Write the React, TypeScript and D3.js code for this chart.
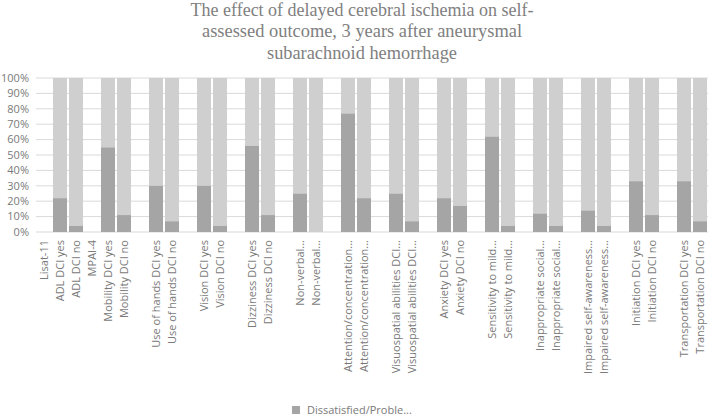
import React from "react";
import * as d3 from "d3";

const categories: string[] = [
  "Lisat-11", "ADL DCI yes", "ADL DCI no", "MPAI-4", "Mobility DCI yes", "Mobility DCI no", "",
  "Use of hands DCI yes", "Use of hands DCI no", "", "Vision DCI yes", "Vision DCI no", "",
  "Dizziness DCI yes", "Dizziness DCI no", "", "Non-verbal...", "Non-verbal...", "",
  "Attention/concentration...", "Attention/concentration...", "",
  "Visuospatial abilities DCI...", "Visuospatial abilities DCI...", "",
  "Anxiety DCI yes", "Anxiety DCI no", "", "Sensitivity to mild...", "Sensitivity to mild...", "",
  "Inappropriate social...", "Inappropriate social...", "",
  "Impaired self-awareness...", "Impaired self-awareness...", "",
  "Initiation DCI yes", "Initiation DCI no", "", "Transportation DCI yes", "Transportation DCI no",
];

const dissatisfied: (number | null)[] = [
  null, 22, 4, null, 55, 11, null,
  30, 7, null, 30, 4, null,
  56, 11, null, 25, 0, null,
  77, 22, null,
  25, 7, null,
  22, 17, null, 62, 4, null,
  12, 4, null,
  14, 4, null,
  33, 11, null, 33, 7,
];

const satisfied: (number | null)[] = [
  null, 78, 96, null, 45, 89, null,
  70, 93, null, 70, 96, null,
  44, 89, null, 75, 100, null,
  23, 78, null,
  75, 93, null,
  78, 83, null, 38, 96, null,
  88, 96, null,
  86, 96, null,
  67, 89, null, 67, 93,
];

const yTicks: number[] = [0, 10, 20, 30, 40, 50, 60, 70, 80, 90, 100];
const titleLines: string[] = [
  "The effect of delayed cerebral ischemia on self-",
  "assessed outcome, 3 years after aneurysmal",
  "subarachnoid hemorrhage",
];
const titleWidths: number[] = [343, 320, 190];
const legendLabel = "Dissatisfied/Proble...";

const W = 709;
const H = 418;
const margin = { left: 36, right: 1, top: 78, bottom: 186 };
const DARK = "#a5a5a5";
const LIGHT = "#cfcfcf";
const TEXT = "#7a7a7a";
const GRID = "#d9d9d9";
const SANS = "'Open Sans', sans-serif";

export default function App() {
  const x = d3
    .scaleBand<number>()
    .domain(categories.map((_, i) => i))
    .range([margin.left, W - margin.right])
    .paddingInner(0.125)
    .paddingOuter(0.0625);
  const y = d3.scaleLinear().domain([0, 100]).range([H - margin.bottom, margin.top]);
  const stack = categories.map((_, i) => ({ i, d: dissatisfied[i], s: satisfied[i] }));

  return (
    <svg width={W} height={H} style={{ position: "absolute", left: 0, top: 0, background: "#fff" }}>
      <g fontFamily="'Liberation Serif', 'Times New Roman', serif" fill="#808080" fontSize={19} textAnchor="middle">
        {titleLines.map((t, i) => (
          <text key={i} x={362} y={16 + i * 21.3} textLength={titleWidths[i]} lengthAdjust="spacingAndGlyphs">
            {t}
          </text>
        ))}
      </g>
      {yTicks.map((t) => (
        <g key={t}>
          <line x1={margin.left} x2={W - margin.right} y1={y(t)} y2={y(t)} stroke={GRID} strokeWidth={1} />
          <text x={29} y={y(t)} dy="0.35em" textAnchor="end" fontFamily={SANS} fontSize={11} fill={TEXT}>
            {t}%
          </text>
        </g>
      ))}
      {stack.map(({ i, d, s }) =>
        d === null || s === null ? null : (
          <g key={i}>
            <rect x={x(i)} width={x.bandwidth()} y={y(d + s)} height={y(d) - y(d + s)} fill={LIGHT} />
            <rect x={x(i)} width={x.bandwidth()} y={y(d)} height={y(0) - y(d)} fill={DARK} />
          </g>
        )
      )}
      {categories.map((c, i) => (
        <text
          key={i}
          transform={`translate(${(x(i) as number) + x.bandwidth() / 2},240) rotate(-90)`}
          dy="0.35em"
          textAnchor="end"
          fontFamily={SANS}
          fontSize={11}
          fill={TEXT}
        >
          {c}
        </text>
      ))}
      <rect x={292} y={406} width={8} height={8} fill={DARK} />
      <text x={307} y={410} dy="0.35em" fontFamily={SANS} fontSize={11} fill={TEXT}>
        {legendLabel}
      </text>
    </svg>
  );
}
